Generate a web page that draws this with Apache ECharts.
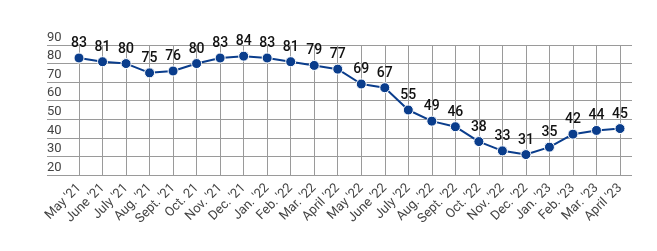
<!DOCTYPE html>
<html>
<head>
<meta charset="utf-8">
<script src="https://cdn.jsdelivr.net/npm/echarts@6/dist/echarts.min.js"></script>
<style>html,body{margin:0;padding:0;background:#fff}#c{width:657px;height:251px}</style>
</head>
<body>
<div id="c"></div>
<script>
const categories = ["May '21","June '21","July '21","Aug. '21","Sept. '21","Oct. 21","Nov. '21","Dec. '21","Jan. '22","Feb. '22","Mar. '22","April '22","May '22","June '22","July '22","Aug. '22","Sept. '22","Oct. '22","Nov. '22","Dec. '22","Jan. '23","Feb. '23","Mar. '23","April '23"];
const values = [83,81,80,75,76,80,83,84,83,81,79,77,69,67,55,49,46,38,33,31,35,42,44,45];
const yTicks = [20,30,40,50,60,70,80,90];

const FONT = 'Roboto';
const chart = echarts.init(document.getElementById('c'));
chart.setOption({
  animation: false,
  textStyle: {fontFamily: FONT},
  grid: [
    {left: 47, right: 25, top: 45, bottom: 76, containLabel: false, outerBoundsMode: 'none'},
    {left: 79, right: 37, top: 45, bottom: 76, containLabel: false, outerBoundsMode: 'none'}
  ],
  xAxis: [
    {gridIndex: 0, type: 'value', min: 0, max: 1, show: false},
    {gridIndex: 1, type: 'category', data: categories, boundaryGap: false,
     axisLine: {show: false}, axisTick: {show: false},
     splitLine: {show: true, lineStyle: {color: '#9a9a9a', width: 1}},
     axisLabel: {rotate: 45, interval: 0, margin: 11, fontSize: 13, color: '#444', fontFamily: FONT}}
  ],
  yAxis: [
    {gridIndex: 0, type: 'value', min: yTicks[0], max: yTicks[yTicks.length-1], interval: 10,
     axisLine: {show: false}, axisTick: {show: false},
     splitLine: {show: true, lineStyle: {color: '#9a9a9a', width: 1}},
     axisLabel: {inside: true, margin: 0, align: 'left', verticalAlign: 'bottom', padding: [0,0,1,0],
                 fontSize: 13, color: '#444', fontFamily: FONT}},
    {gridIndex: 1, type: 'value', min: yTicks[0], max: yTicks[yTicks.length-1], show: false}
  ],
  series: [{
    type: 'line', xAxisIndex: 1, yAxisIndex: 1, data: values,
    symbol: 'circle', symbolSize: 10,
    lineStyle: {color: '#0a3d8c', width: 2},
    itemStyle: {color: '#0a3d8c', borderColor: '#fff', borderWidth: 1},
    label: {show: true, position: 'top', distance: 2, fontSize: 14, fontWeight: 500, color: '#111', fontFamily: FONT}
  }]
});
</script>
</body>
</html>
